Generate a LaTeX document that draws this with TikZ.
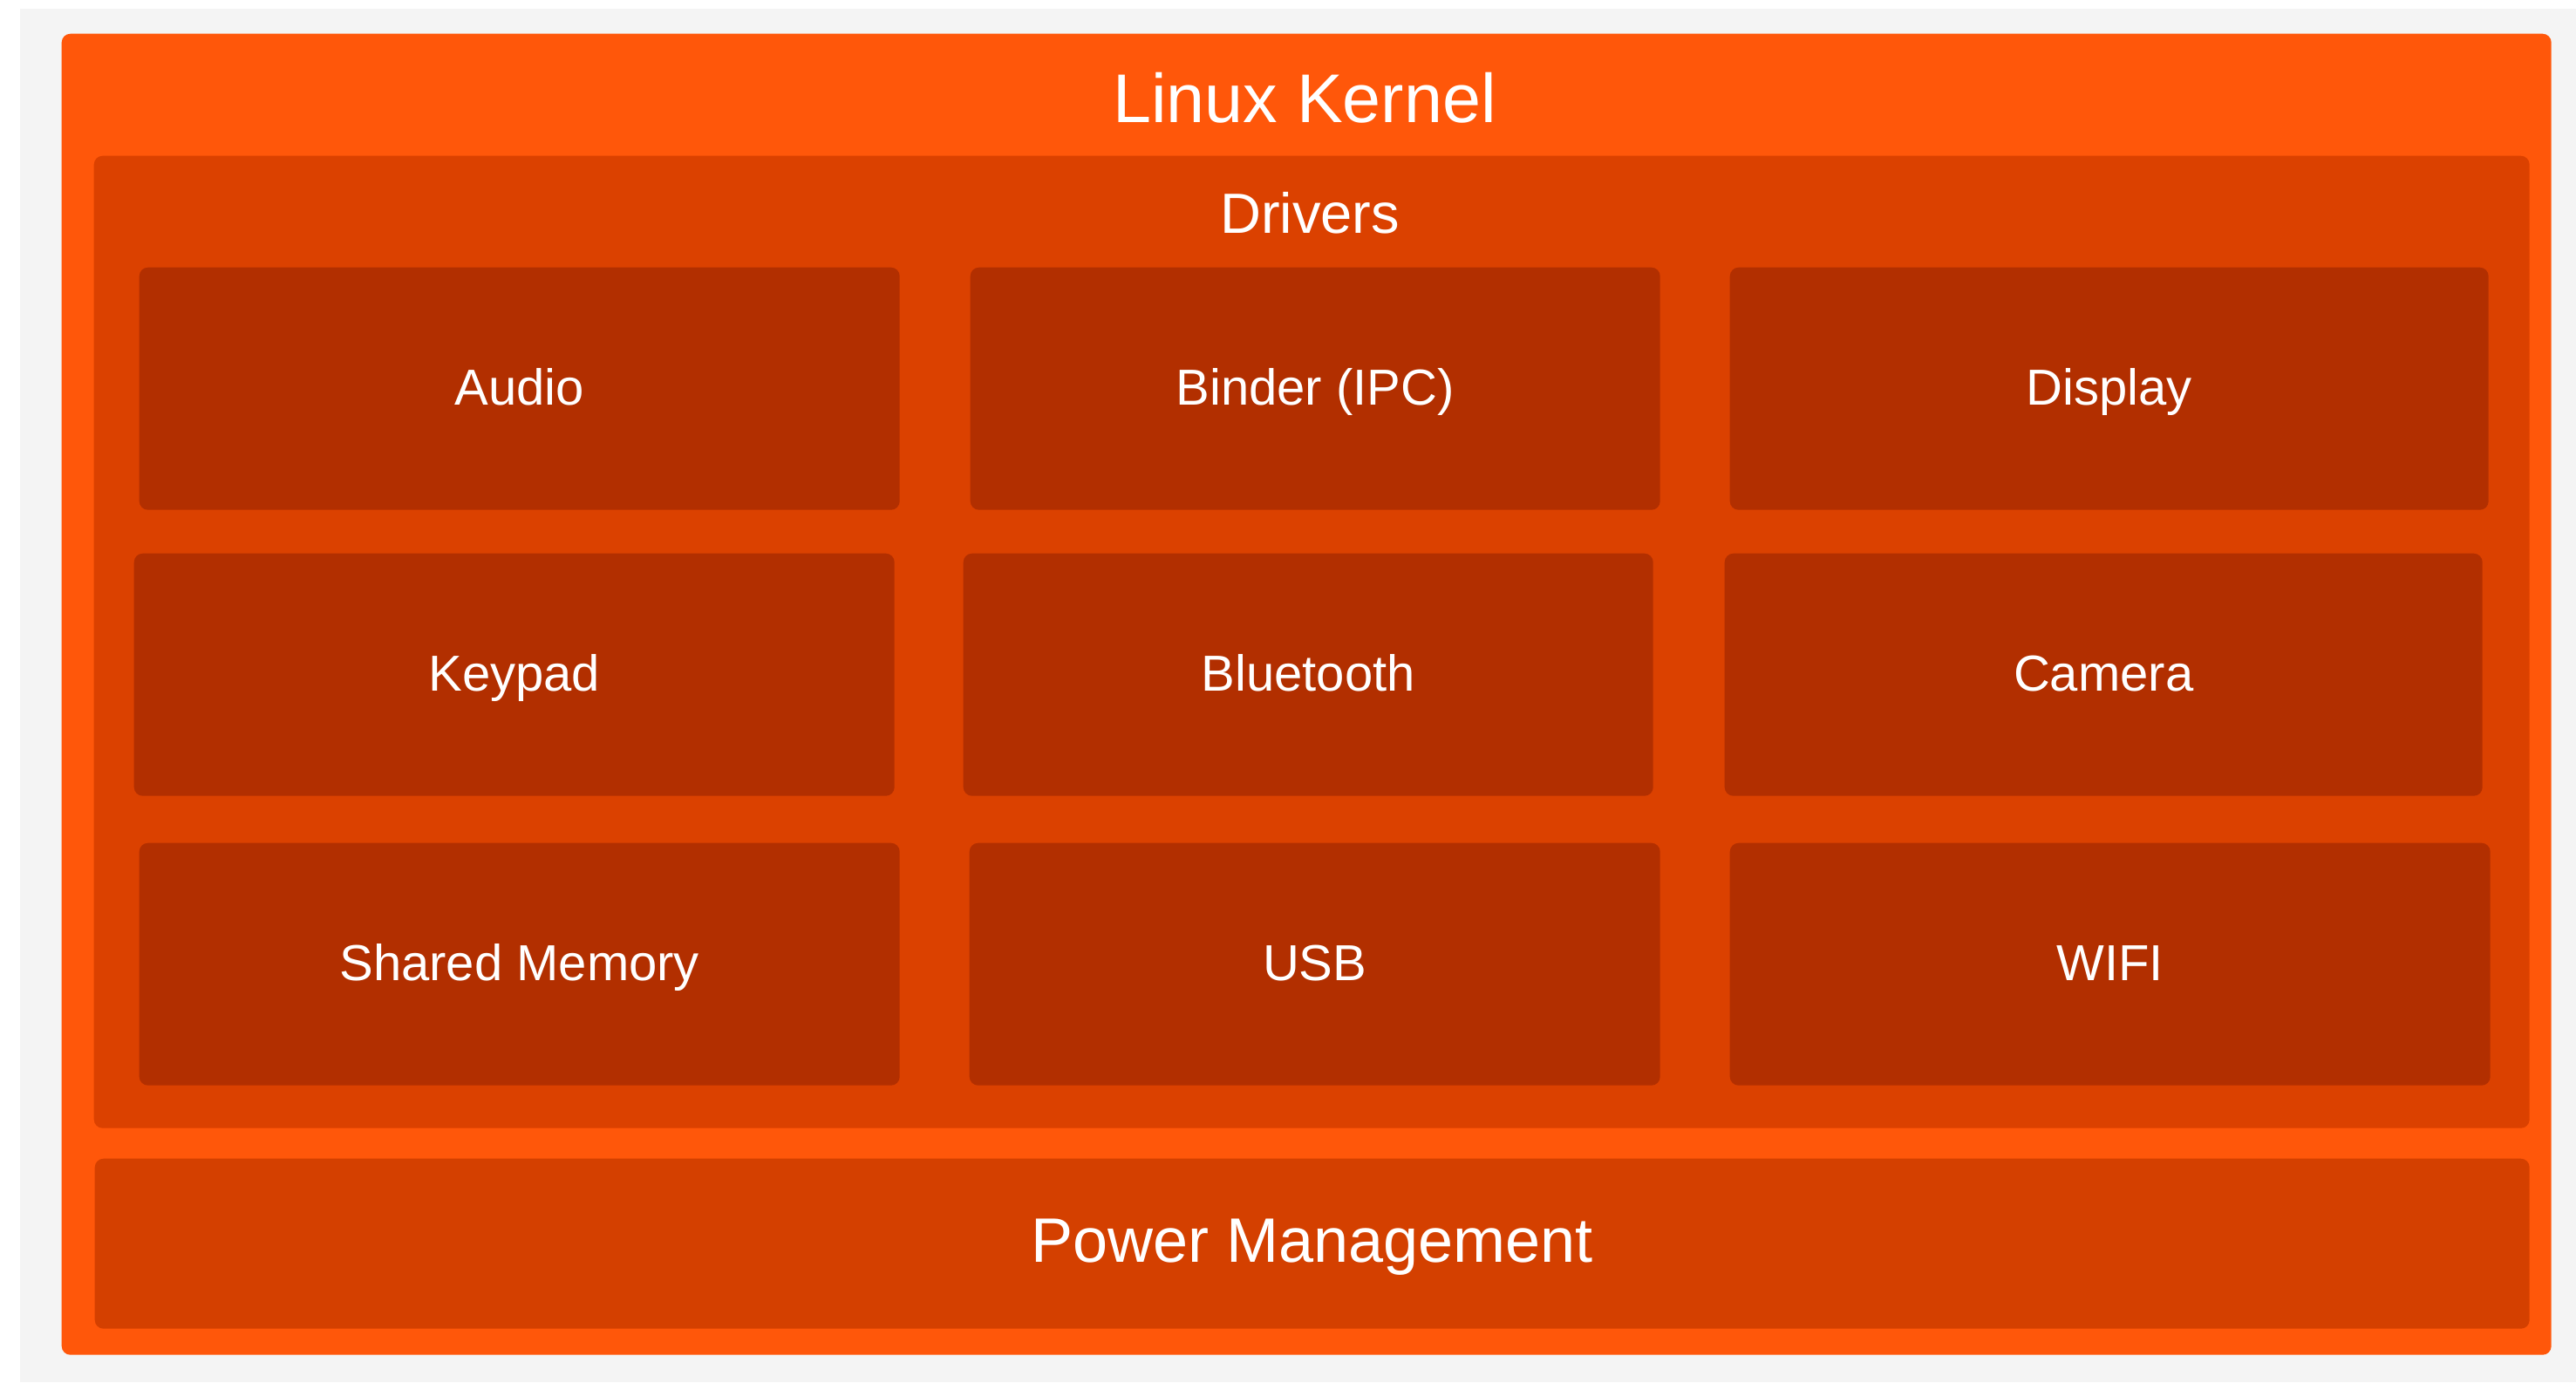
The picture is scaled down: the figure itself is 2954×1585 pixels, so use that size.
\documentclass[tikz,border=0pt]{standalone}
\usepackage{fontspec}
\setmainfont{Liberation Sans}
\usetikzlibrary{positioning}
\definecolor{kernelcol}{RGB}{255,87,10}
\definecolor{drivercol}{RGB}{219,65,0}
\definecolor{boxcol}{RGB}{178,47,0}
\definecolor{powercol}{RGB}{212,64,0}
\definecolor{pagecol}{RGB}{244,244,244}

\begin{document}
\begin{tikzpicture}[
			x=0.1mm, y=-0.1mm,
			panel/.style={
				rounded corners=1mm,
				anchor=north west,
				inner sep=0pt,
				text=white,
				text height=1.08em,
				text depth=0pt
			},
			kernel/.style={panel, fill=kernelcol},
			drivers/.style={panel, fill=drivercol},
			driver/.style={
				panel,
				fill=boxcol,
				minimum height=27.8mm,
				font=\fontsize{16.5}{20}\selectfont
			},
			power/.style={
				panel,
				fill=powercol,
				minimum width=279.2mm,
				minimum height=19.5mm,
				text height=1.22em,
				font=\fontsize{20.5}{24}\selectfont
			},
			caption/.style={
				text=white,
				inner sep=0pt,
				text height=0.72em,
				text depth=0pt
			}
			]
			% Page
			\useasboundingbox (0,0) rectangle (2954,1585);
			\fill[white] (0,0) rectangle (2954,1585);
			\fill[pagecol] (23,10) rectangle (2954,1585);
			
			% Layers
			\node[kernel, minimum width=285.5mm, minimum height=151.5mm] (kernel) at (70,38) {};
			\node[caption, font=\fontsize{22.5}{26}\selectfont] (kerneltitle) at (1496,128) {Linux Kernel};
			\node[drivers, minimum width=279.3mm, minimum height=111.5mm] (drivers) at (107,178) {};
			\node[caption, font=\fontsize{18.5}{22}\selectfont] (driverstitle) at (1502,255) {Drivers};
			
			% Drivers
			\node[driver, minimum width=87.2mm] (audio) at (159,306) {Audio};
			\node[driver, minimum width=79.1mm] (binder) at (1112,306) {Binder (IPC)};
			\node[driver, minimum width=87.0mm] (display) at (1983,306) {Display};
			\node[driver, minimum width=87.2mm] (keypad) at (153,634) {Keypad};
			\node[driver, minimum width=79.1mm] (bluetooth) at (1104,634) {Bluetooth};
			\node[driver, minimum width=86.9mm] (camera) at (1977,634) {Camera};
			\node[driver, minimum width=87.2mm] (shmem) at (159,966) {Shared Memory};
			\node[driver, minimum width=79.2mm] (usb) at (1111,966) {USB};
			\node[driver, minimum width=87.2mm] (wifi) at (1983,966) {WIFI};
			
			% Power
			\node[power] (power) at (108,1328) {Power Management};
		\end{tikzpicture}
\end{document}
